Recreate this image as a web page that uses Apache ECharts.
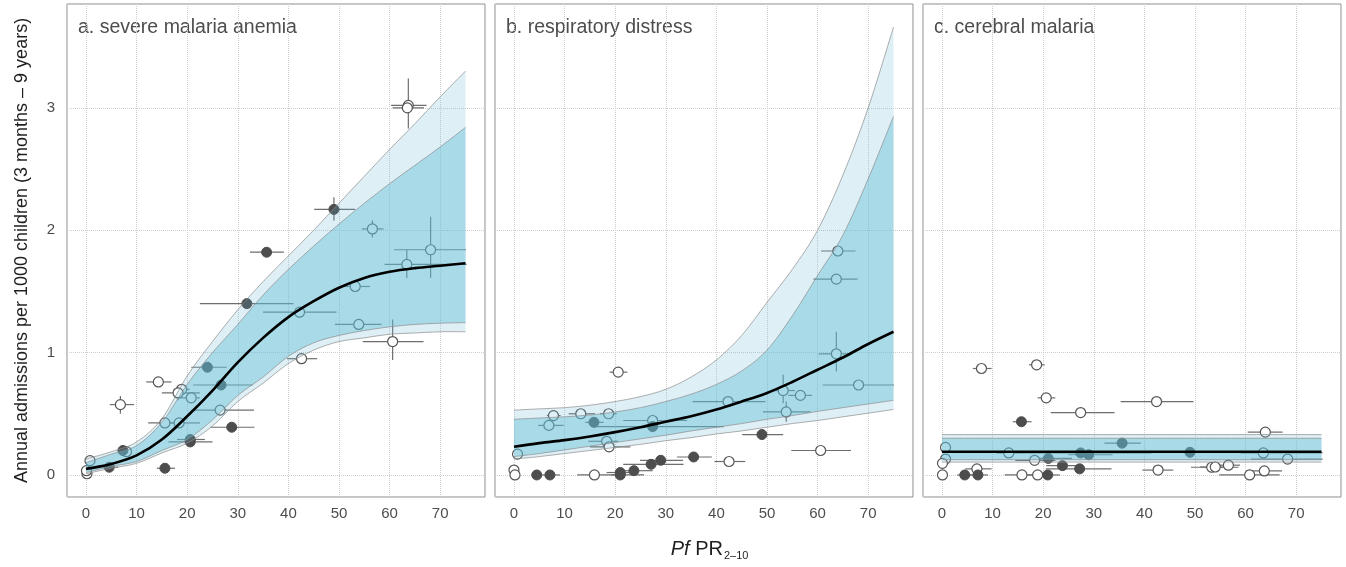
<!DOCTYPE html>
<html><head><meta charset="utf-8">
<script src="https://cdn.jsdelivr.net/npm/echarts@6/dist/echarts.min.js"></script>
<style>html,body{margin:0;padding:0;background:#fff}#c{width:1346px;height:567px}</style>
</head><body><div id="c"></div>
<script>
// ---------- data ----------
const panelTitles = ['a. severe malaria anemia', 'b. respiratory distress', 'c. cerebral malaria'];
const xTicks = [0, 10, 20, 30, 40, 50, 60, 70];
const yTicks = [0, 1, 2, 3];
const yTitle = 'Annual admissions per 1000 children (3 months \u2013 9 years)';

const curveX = [0, 5, 10, 15, 20, 25, 30, 35, 40, 45, 50, 55, 60, 65, 70, 75];
// panel a
const aMean    = [0.05, 0.09, 0.16, 0.29, 0.48, 0.69, 0.92, 1.12, 1.29, 1.42, 1.53, 1.61, 1.66, 1.69, 1.71, 1.73];
const aOuterHi = [0.13, 0.19, 0.27, 0.46, 0.81, 1.09, 1.35, 1.58, 1.79, 2.00, 2.22, 2.44, 2.66, 2.87, 3.09, 3.30];
const aInnerHi = [0.10, 0.17, 0.24, 0.43, 0.74, 1.00, 1.23, 1.47, 1.68, 1.87, 2.05, 2.22, 2.38, 2.53, 2.68, 2.84];
const aInnerLo = [0.02, 0.07, 0.11, 0.20, 0.29, 0.45, 0.65, 0.80, 0.97, 1.08, 1.14, 1.18, 1.21, 1.23, 1.24, 1.245];
const aOuterLo = [0.01, 0.055, 0.095, 0.18, 0.26, 0.40, 0.60, 0.75, 0.91, 1.02, 1.09, 1.12, 1.15, 1.16, 1.17, 1.17];
// panel b
const bMean    = [0.23, 0.26, 0.285, 0.315, 0.35, 0.39, 0.435, 0.48, 0.535, 0.60, 0.67, 0.76, 0.86, 0.96, 1.07, 1.17];
const bOuterHi = [0.53, 0.54, 0.55, 0.57, 0.60, 0.64, 0.70, 0.80, 0.94, 1.14, 1.41, 1.68, 2.00, 2.45, 3.00, 3.66];
const bInnerHi = [0.455, 0.465, 0.475, 0.49, 0.515, 0.55, 0.60, 0.66, 0.74, 0.85, 1.02, 1.30, 1.63, 1.96, 2.42, 2.93];
const bInnerLo = [0.15, 0.175, 0.205, 0.235, 0.265, 0.295, 0.325, 0.36, 0.39, 0.42, 0.455, 0.485, 0.52, 0.55, 0.58, 0.61];
const bOuterLo = [0.13, 0.15, 0.175, 0.20, 0.225, 0.25, 0.28, 0.305, 0.335, 0.36, 0.39, 0.42, 0.445, 0.475, 0.505, 0.535];
// panel c (flat)
const cX       = [0, 75];
const cMean    = [0.19, 0.19];
const cOuterHi = [0.33, 0.33];
const cInnerHi = [0.30, 0.30];
const cInnerLo = [0.125, 0.125];
const cOuterLo = [0.105, 0.105];

// points: [x, y, xLow, xHigh, yLow, yHigh, filled]
const aPts = [
  [63.7, 3.02, 60.3, 67.3, 2.83, 3.24, 0],
  [63.5, 3.00, 60.6, 66.8, null, null, 0],
  [49.0, 2.17, 45.1, 53.2, 2.08, 2.27, 1],
  [56.6, 2.01, 54.5, 58.8, 1.94, 2.08, 0],
  [35.7, 1.82, 32.4, 39.1, 1.78, 1.85, 1],
  [68.1, 1.84, 60.9, 75.1, 1.61, 2.11, 0],
  [63.4, 1.72, 59.0, 75.2, 1.61, 1.84, 0],
  [53.2, 1.54, 50.9, 56.1, null, null, 0],
  [31.8, 1.40, 22.5, 41.0, null, null, 1],
  [42.2, 1.33, 35.0, 49.5, 1.29, 1.36, 0],
  [53.9, 1.23, 49.2, 58.4, null, null, 0],
  [60.6, 1.09, 54.7, 66.7, 0.94, 1.27, 0],
  [42.6, 0.95, 39.7, 45.7, null, null, 0],
  [24.0, 0.88, 20.8, 27.8, null, null, 1],
  [26.7, 0.735, 21.2, 32.9, null, null, 1],
  [14.3, 0.76, 11.9, 16.9, null, null, 0],
  [18.9, 0.70, 17.3, 20.5, null, null, 0],
  [18.2, 0.67, 15.0, 22.5, 0.61, 0.72, 0],
  [20.8, 0.63, 18.2, 22.5, null, null, 0],
  [6.8, 0.575, 4.7, 9.5, 0.50, 0.645, 0],
  [26.5, 0.53, 20.9, 33.2, null, null, 0],
  [15.6, 0.425, 12.3, 18.6, null, null, 0],
  [18.4, 0.425, 16.6, 22.5, null, null, 0],
  [28.8, 0.39, 24.6, 33.3, null, null, 1],
  [20.6, 0.29, 18.0, 23.5, null, null, 1],
  [20.6, 0.27, 16.3, 25.0, null, null, 1],
  [7.3, 0.20, 6.3, 8.3, null, null, 1],
  [8.0, 0.19, null, null, null, null, 0],
  [15.6, 0.055, 14.0, 17.6, null, null, 1],
  [4.6, 0.063, 3.4, 6.4, null, null, 1],
  [0.8, 0.117, null, null, null, null, 0],
  [0.2, 0.01, null, null, null, null, 0],
  [0.1, 0.035, null, null, null, null, 0]
];
const bPts = [
  [0.7, 0.17, null, null, null, null, 0],
  [0.0, 0.04, null, null, null, null, 0],
  [0.2, 0.0, null, null, null, null, 0],
  [4.5, 0.0, 3.5, 5.5, null, null, 1],
  [7.1, 0.0, 5.1, 9.1, null, null, 1],
  [15.9, 0.0, 12.5, 21.0, null, null, 0],
  [21.0, 0.02, 18.3, 23.3, null, null, 1],
  [21.0, 0.0, 19.2, 25.7, null, null, 1],
  [23.7, 0.035, 21.6, 27.4, null, null, 1],
  [27.1, 0.087, 21.6, 33.5, null, null, 1],
  [29.0, 0.12, 24.9, 33.4, null, null, 1],
  [35.5, 0.147, 32.2, 39.1, null, null, 1],
  [42.5, 0.11, 39.6, 45.7, null, null, 0],
  [49.0, 0.33, 45.1, 53.2, null, null, 1],
  [60.6, 0.20, 54.8, 66.6, null, null, 0],
  [20.6, 0.84, 18.9, 22.4, null, null, 0],
  [7.8, 0.485, 6.5, 9.2, null, null, 0],
  [6.9, 0.405, 4.8, 9.8, null, null, 0],
  [13.2, 0.50, 10.8, 16.0, null, null, 0],
  [18.7, 0.50, 17.0, 20.3, null, null, 0],
  [15.8, 0.43, 14.1, 17.7, null, null, 1],
  [27.4, 0.395, 15.7, 41.4, null, null, 1],
  [27.4, 0.445, 21.6, 34.2, null, null, 0],
  [18.3, 0.275, 14.7, 20.6, null, null, 0],
  [18.8, 0.23, 15.0, 23.0, null, null, 0],
  [42.3, 0.60, 35.3, 49.7, null, null, 0],
  [53.2, 0.69, 51.0, 55.5, 0.585, 0.82, 0],
  [56.6, 0.65, 54.2, 58.9, null, null, 0],
  [53.8, 0.515, 49.2, 58.6, 0.435, 0.60, 0],
  [63.7, 0.99, 60.2, 66.8, 0.845, 1.17, 0],
  [68.1, 0.735, 61.0, 75.1, null, null, 0],
  [63.7, 1.60, 59.2, 67.9, null, null, 0],
  [64.0, 1.83, 60.7, 67.5, null, null, 0]
];
const cPts = [
  [7.8, 0.87, 6.1, 9.8, null, null, 0],
  [18.7, 0.90, 17.2, 20.3, null, null, 0],
  [20.6, 0.63, 18.9, 22.4, null, null, 0],
  [42.4, 0.60, 35.3, 49.7, null, null, 0],
  [27.4, 0.51, 21.5, 34.1, null, null, 0],
  [15.7, 0.435, 14.0, 17.7, null, null, 1],
  [63.9, 0.35, 60.4, 67.3, null, null, 0],
  [0.7, 0.225, null, null, null, null, 0],
  [35.6, 0.26, 32.1, 39.3, null, null, 1],
  [13.2, 0.18, 10.8, 16.0, null, null, 0],
  [27.4, 0.18, 15.7, 41.4, null, null, 1],
  [29.0, 0.165, 25.0, 33.7, null, null, 1],
  [49.0, 0.185, 45.1, 53.2, null, null, 1],
  [63.5, 0.18, 59.0, 75.2, null, null, 0],
  [68.3, 0.13, 61.1, 75.2, null, null, 0],
  [0.7, 0.13, null, null, null, null, 0],
  [18.3, 0.12, 14.5, 22.4, null, null, 0],
  [21.0, 0.135, 18.3, 25.7, null, null, 1],
  [0.1, 0.095, null, null, null, null, 0],
  [6.9, 0.05, 4.6, 9.8, null, null, 0],
  [23.8, 0.076, 20.6, 26.9, null, null, 1],
  [27.2, 0.05, 20.5, 33.5, null, null, 1],
  [42.7, 0.04, 39.6, 45.7, null, null, 0],
  [53.3, 0.063, 49.2, 58.6, null, null, 0],
  [54.0, 0.065, 51.0, 56.0, null, null, 0],
  [56.6, 0.08, 54.1, 58.9, null, null, 0],
  [63.7, 0.033, 60.1, 67.2, null, null, 0],
  [60.8, 0.0, 54.8, 66.7, null, null, 0],
  [0.1, 0.0, null, null, null, null, 0],
  [4.5, 0.0, 3.0, 6.0, null, null, 1],
  [7.1, 0.0, 5.1, 9.1, null, null, 1],
  [15.8, 0.0, 12.4, 20.8, null, null, 0],
  [18.9, 0.0, 17.0, 20.3, null, null, 0],
  [20.9, 0.0, 18.3, 23.3, null, null, 1]
];

// ---------- chart ----------
const FONT = '"Liberation Sans", Arial, Helvetica, sans-serif';
const OUTER_FILL = 'rgba(90,175,205,0.2)';
const INNER_FILL = 'rgba(94,190,214,0.41)';
const EDGE = '#8c8c8c';

const panels = [
  {x: curveX, mean: aMean, oHi: aOuterHi, iHi: aInnerHi, iLo: aInnerLo, oLo: aOuterLo, pts: aPts},
  {x: curveX, mean: bMean, oHi: bOuterHi, iHi: bInnerHi, iLo: bInnerLo, oLo: bOuterLo, pts: bPts},
  {x: cX, mean: cMean, oHi: cOuterHi, iHi: cInnerHi, iLo: cInnerLo, oLo: cOuterLo, pts: cPts}
];
const gridLefts = [67, 495, 923];

function smoothPath(pts) {
  let d = '';
  for (let i = 0; i < pts.length - 1; i++) {
    const p0 = pts[i - 1] || pts[i], p1 = pts[i], p2 = pts[i + 1], p3 = pts[i + 2] || pts[i + 1];
    const c1 = [p1[0] + (p2[0] - p0[0]) / 6, p1[1] + (p2[1] - p0[1]) / 6];
    const c2 = [p2[0] - (p3[0] - p1[0]) / 6, p2[1] - (p3[1] - p1[1]) / 6];
    d += ' C' + c1[0] + ' ' + c1[1] + ' ' + c2[0] + ' ' + c2[1] + ' ' + p2[0] + ' ' + p2[1];
  }
  return d;
}

function bandSeries(gi, xs, lo, hi, fill, z) {
  return {
    type: 'custom', xAxisIndex: gi, yAxisIndex: gi, z: z, silent: true, clip: true,
    data: [[xs[0], lo[0]]],
    renderItem: function (params, api) {
      const top = xs.map((x, k) => api.coord([x, hi[k]]));
      const bot = xs.map((x, k) => api.coord([x, lo[k]]));
      const botR = bot.slice().reverse();
      const topD = 'M' + top[0][0] + ' ' + top[0][1] + smoothPath(top);
      const botD = 'M' + bot[0][0] + ' ' + bot[0][1] + smoothPath(bot);
      const fillD = topD + ' L' + botR[0][0] + ' ' + botR[0][1] + smoothPath(botR) + ' Z';
      return {type: 'group', children: [
        {type: 'path', shape: {pathData: fillD}, style: {fill: fill, stroke: null}},
        {type: 'path', shape: {pathData: topD}, style: {fill: null, stroke: EDGE, lineWidth: 0.7}},
        {type: 'path', shape: {pathData: botD}, style: {fill: null, stroke: EDGE, lineWidth: 0.7}}
      ]};
    }
  };
}

function errSeries(gi, pts) {
  return {
    type: 'custom', xAxisIndex: gi, yAxisIndex: gi, z: 1, silent: true, clip: true,
    data: pts.map(p => [p[0], p[1]]),
    renderItem: function (params, api) {
      const p = pts[params.dataIndex];
      const st = {stroke: '#6e6e6e', lineWidth: 1.2};
      const ch = [];
      if (p[2] != null) {
        const a = api.coord([p[2], p[1]]), b = api.coord([p[3], p[1]]);
        ch.push({type: 'line', shape: {x1: a[0], y1: a[1], x2: b[0], y2: b[1]}, style: st});
      }
      if (p[4] != null) {
        const a = api.coord([p[0], p[4]]), b = api.coord([p[0], p[5]]);
        ch.push({type: 'line', shape: {x1: a[0], y1: a[1], x2: b[0], y2: b[1]}, style: st});
      }
      return {type: 'group', children: ch};
    }
  };
}

const grids = [], xAxes = [], yAxes = [], series = [], graphics = [];
panels.forEach((P, i) => {
  grids.push({left: gridLefts[i], top: 4, width: 418, height: 493, show: true,
    borderColor: '#8a8a8a', borderWidth: 1, backgroundColor: 'transparent'});
  xAxes.push({gridIndex: i, type: 'value', min: -3.75, max: 78.85, splitNumber: 8,
    axisLine: {show: false}, axisTick: {show: false},
    axisLabel: {color: '#4d4d4d', fontSize: 15, fontFamily: FONT, margin: 9,
      formatter: v => xTicks.indexOf(Math.round(v * 1000) / 1000) >= 0 ? String(v) : ''},
    splitLine: {show: true, lineStyle: {type: 'dotted', color: '#cfcfcf', width: 1}}});
  yAxes.push({gridIndex: i, type: 'value', min: -0.18, max: 3.848, splitNumber: 4,
    axisLine: {show: false}, axisTick: {show: false},
    name: i === 0 ? yTitle : '', nameLocation: 'middle', nameGap: 36, nameRotate: 90,
    nameTextStyle: {fontSize: 18, color: '#1f1f1f', fontFamily: FONT},
    axisLabel: {show: i === 0, color: '#4d4d4d', fontSize: 15, fontFamily: FONT, margin: 12,
      formatter: v => yTicks.indexOf(Math.round(v * 1000) / 1000) >= 0 ? String(v) : ''},
    splitLine: {show: true, lineStyle: {type: 'dotted', color: '#cfcfcf', width: 1}}});

  series.push(errSeries(i, P.pts));
  series.push({type: 'scatter', xAxisIndex: i, yAxisIndex: i, z: 2, silent: true,
    symbol: 'circle', symbolSize: 10,
    data: P.pts.filter(p => !p[6]).map(p => [p[0], p[1]]),
    itemStyle: {color: '#ffffff', borderColor: '#555555', borderWidth: 1.2, opacity: 1}});
  series.push({type: 'scatter', xAxisIndex: i, yAxisIndex: i, z: 2, silent: true,
    symbol: 'circle', symbolSize: 10,
    data: P.pts.filter(p => p[6]).map(p => [p[0], p[1]]),
    itemStyle: {color: '#4d4d4d', borderColor: '#4d4d4d', borderWidth: 1, opacity: 1}});
  series.push(bandSeries(i, P.x, P.oLo, P.oHi, OUTER_FILL, 3));
  series.push(bandSeries(i, P.x, P.iLo, P.iHi, INNER_FILL, 4));
  series.push({type: 'line', xAxisIndex: i, yAxisIndex: i, z: 5, silent: true,
    data: P.x.map((x, k) => [x, P.mean[k]]), symbol: 'none', smooth: 0.35,
    lineStyle: {color: '#000000', width: 2.6}});

  graphics.push({type: 'text', x: gridLefts[i] + 11, y: 28,
    style: {text: panelTitles[i], font: '19.5px ' + FONT, fill: '#4d4d4d',
      align: 'left', verticalAlign: 'middle'}});
});

graphics.push({type: 'text', x: 723, y: 549,
  style: {text: '{i|Pf}{n| PR}', align: 'right', verticalAlign: 'middle', fill: '#1f1f1f',
    rich: {i: {fontStyle: 'italic', fontSize: 20, fontFamily: FONT, fill: '#1f1f1f'},
           n: {fontSize: 20, fontFamily: FONT, fill: '#1f1f1f'}}}});
graphics.push({type: 'text', x: 724, y: 556,
  style: {text: '2\u201310', font: '11px ' + FONT, fill: '#1f1f1f', align: 'left', verticalAlign: 'middle'}});

const chart = echarts.init(document.getElementById('c'), null, {renderer: 'canvas'});
chart.setOption({
  animation: false,
  backgroundColor: '#ffffff',
  grid: grids, xAxis: xAxes, yAxis: yAxes, series: series, graphic: graphics
});
</script></body></html>
